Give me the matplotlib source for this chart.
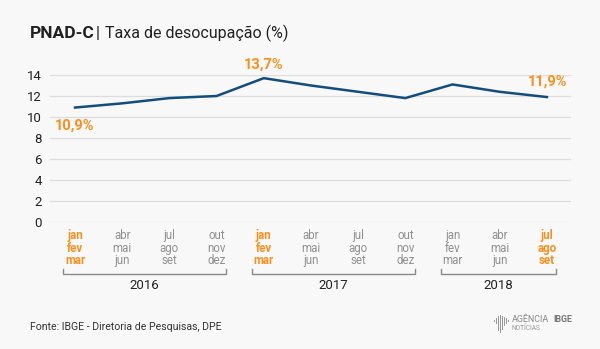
import matplotlib.pyplot as plt
import matplotlib.transforms as mtransforms
from matplotlib.patches import Rectangle

plt.rcParams['font.family'] = ['Roboto', 'DejaVu Sans']

# data
months_top = ['jan', 'abr', 'jul', 'out', 'jan', 'abr', 'jul', 'out', 'jan', 'abr', 'jul']
months_mid = ['fev', 'mai', 'ago', 'nov', 'fev', 'mai', 'ago', 'nov', 'fev', 'mai', 'ago']
months_bot = ['mar', 'jun', 'set', 'dez', 'mar', 'jun', 'set', 'dez', 'mar', 'jun', 'set']
taxa = [10.9, 11.3, 11.8, 12.0, 13.7, 13.0, 12.4, 11.8, 13.1, 12.4, 11.9]
highlight = [0, 4, 10]
anos = ['2016', '2017', '2018']
ano_inicio = [0, 4, 8]
ano_fim = [3, 7, 10]

bg = '#f8f8f8'
azul = '#134d7c'
laranja = '#f7901e'
cinza = '#8a8a8a'

fig = plt.figure(figsize=(6, 3.49), dpi=100, facecolor=bg)
ax = fig.add_axes([50 / 600, 1 - 222 / 349, 521 / 600, 147 / 349])
ax.set_facecolor(bg)

x = list(range(len(taxa)))
ax.plot(x, taxa, color=azul, linewidth=1.8, solid_joinstyle='miter', zorder=3)

ax.set_xlim(-0.53, 10.51)
ax.set_ylim(0, 14)
ax.set_yticks(range(0, 15, 2))
ax.grid(axis='y', color='#dddddd', linewidth=0.9)
ax.set_axisbelow(True)
ax.tick_params(axis='y', length=0, pad=6, labelsize=9.5, labelcolor='#222222')
ax.set_xticks([])
for s in ax.spines.values():
    s.set_visible(False)

# value labels
fmt = lambda v: f'{v:.1f}'.replace('.', ',') + '%'
ax.annotate(fmt(taxa[0]), (0, taxa[0]), xytext=(0, -8), textcoords='offset points',
            ha='center', va='top', color=laranja, fontsize=10.5, fontweight='bold')
ax.annotate(fmt(taxa[4]), (4, taxa[4]), xytext=(0, 5), textcoords='offset points',
            ha='center', va='bottom', color=laranja, fontsize=10.5, fontweight='bold')
ax.annotate(fmt(taxa[10]), (10, taxa[10]), xytext=(15, 6), textcoords='offset points',
            ha='right', va='bottom', color=laranja, fontsize=10.5, fontweight='bold')

# month labels
tr = mtransforms.blended_transform_factory(ax.transData, ax.transAxes)
for i in x:
    c = laranja if i in highlight else '#909090'
    w = 'bold' if i in highlight else 'normal'
    for row, lab in zip([-0.095, -0.177, -0.259], [months_top[i], months_mid[i], months_bot[i]]):
        ax.text(i, row, lab, transform=tr, ha='center', va='center',
                fontsize=8.3, color=c, fontweight=w)

# year brackets
yb = -0.354
for ano, a, b in zip(anos, ano_inicio, ano_fim):
    x0, x1 = a - 0.25, b + 0.2
    ax.plot([x0, x0, x1, x1], [yb + 0.035, yb, yb, yb + 0.035], transform=tr,
            color=cinza, linewidth=1, clip_on=False)
    ax.text((x0 + x1) / 2, yb - 0.075, ano, transform=tr, ha='center', va='center',
            fontsize=9.5, color='#222222')

# title
fig.text(30 / 600, 1 - 33 / 349, 'PNAD-C', fontsize=12.5, fontweight='bold',
         color='#222222', va='center', ha='left')
fig.text(96 / 600, 1 - 33 / 349, '|', fontsize=12, color='#222222', va='center', ha='left')
fig.text(105 / 600, 1 - 33 / 349, 'Taxa de desocupação (%)', fontsize=11.5,
         color='#222222', va='center', ha='left')

# footer
fig.text(30 / 600, 1 - 327 / 349, 'Fonte: IBGE - Diretoria de Pesquisas, DPE', fontsize=7.6,
         color='#333333', va='center', ha='left')

# logo
fig.text(512 / 600, 1 - 320 / 349, 'AGÊNCIA', fontsize=6.4, color='#888888',
         va='center', ha='left')
fig.text(572 / 600, 1 - 320 / 349, 'IBGE', fontsize=6.4, color='#777777',
         fontweight='bold', va='center', ha='right')
fig.text(512 / 600, 1 - 329 / 349, 'NOTÍCIAS', fontsize=4.8, color='#999999',
         va='center', ha='left')
bar_x = [494, 496, 498, 500, 502, 504, 506, 508]
bar_top = [320, 318, 316, 315, 316, 317, 318, 320]
bar_bot = [322, 324, 331, 333, 330, 326, 324, 322]
for bx, bt, bb in zip(bar_x, bar_top, bar_bot):
    fig.patches.append(Rectangle((bx / 600, 1 - bb / 349), 1.2 / 600, (bb - bt) / 349,
                                 transform=fig.transFigure, color='#999999', lw=0))

fig.savefig('out.png', dpi=100, facecolor=bg)
